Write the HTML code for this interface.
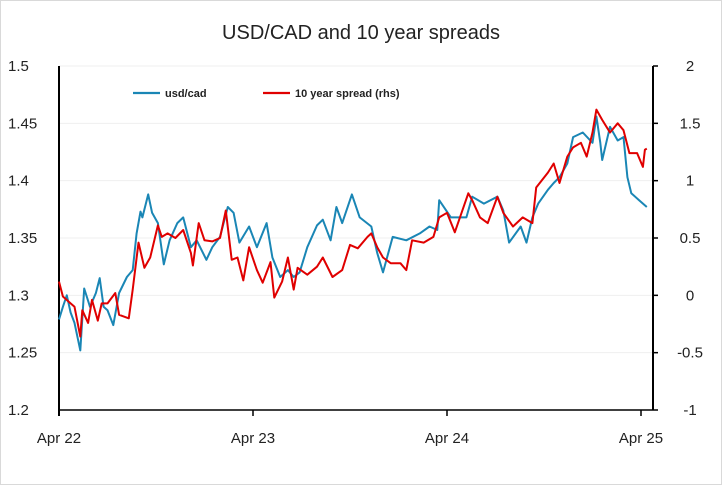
<!DOCTYPE html>
<html><head><meta charset="utf-8"><style>
body{margin:0;background:#fff}
svg{display:block;font-family:"Liberation Sans",sans-serif}
</style></head><body>
<svg id="chart" width="722" height="485">
<rect x="0.5" y="0.5" width="721" height="484" fill="#fff" stroke="#d9d9d9"/>
<text x="361" y="39" text-anchor="middle" font-size="20" fill="#222">USD/CAD and 10 year spreads</text>
<g id="grid"></g><g id="axes"></g><g id="series"></g>
<g>
<line x1="133" y1="93" x2="160" y2="93" stroke="#1a86b5" stroke-width="2.2"/>
<text x="165" y="97" font-size="11" font-weight="bold" fill="#222">usd/cad</text>
<line x1="263" y1="93" x2="290" y2="93" stroke="#e00000" stroke-width="2.2"/>
<text x="295" y="97" font-size="11" font-weight="bold" fill="#222">10 year spread (rhs)</text>
</g>
</svg>
<script>
const leftTicks=[1.2,1.25,1.3,1.35,1.4,1.45,1.5];
const leftTickLabels=["1.2","1.25","1.3","1.35","1.4","1.45","1.5"];
const rightTicks=[-1,-0.5,0,0.5,1,1.5,2];
const rightTickLabels=["-1","-0.5","0","0.5","1","1.5","2"];
const xTicks=[0,1,2,3];
const xTickLabels=["Apr 22","Apr 23","Apr 24","Apr 25"];
const usdT=[0,.02,.04,.06,.08,.11,.13,.16,.19,.21,.23,.25,.28,.31,.35,.38,.40,.42,.43,.46,.48,.51,.54,.57,.61,.64,.68,.71,.76,.79,.83,.87,.90,.93,.98,1.02,1.07,1.10,1.14,1.18,1.21,1.24,1.28,1.33,1.36,1.40,1.43,1.46,1.51,1.55,1.61,1.64,1.67,1.72,1.79,1.86,1.91,1.95,1.96,2.02,2.07,2.10,2.13,2.19,2.26,2.29,2.32,2.38,2.41,2.44,2.47,2.52,2.55,2.58,2.62,2.65,2.70,2.75,2.77,2.79,2.80,2.84,2.88,2.91,2.93,2.95,2.99,3.03];
const usdcad=[1.279,1.290,1.300,1.285,1.276,1.252,1.306,1.290,1.302,1.315,1.290,1.287,1.274,1.302,1.316,1.322,1.354,1.373,1.368,1.388,1.372,1.363,1.327,1.348,1.363,1.368,1.342,1.348,1.331,1.342,1.351,1.377,1.372,1.346,1.360,1.342,1.363,1.333,1.316,1.322,1.316,1.320,1.342,1.361,1.366,1.348,1.377,1.363,1.388,1.368,1.360,1.337,1.320,1.351,1.348,1.354,1.360,1.357,1.383,1.368,1.368,1.368,1.386,1.380,1.386,1.374,1.346,1.360,1.346,1.368,1.380,1.392,1.398,1.403,1.415,1.438,1.442,1.433,1.456,1.433,1.418,1.447,1.435,1.438,1.403,1.389,1.383,1.377];
const sprT=[0,.02,.06,.08,.11,.12,.15,.17,.20,.22,.25,.29,.31,.36,.38,.41,.44,.47,.51,.53,.56,.60,.64,.68,.69,.72,.75,.79,.83,.86,.89,.92,.95,.98,1.02,1.05,1.09,1.11,1.15,1.18,1.21,1.23,1.28,1.33,1.36,1.41,1.46,1.50,1.54,1.59,1.61,1.64,1.67,1.71,1.76,1.79,1.82,1.88,1.93,1.96,2.00,2.04,2.11,2.13,2.17,2.21,2.26,2.29,2.34,2.39,2.44,2.46,2.52,2.55,2.58,2.62,2.65,2.69,2.72,2.75,2.77,2.80,2.84,2.88,2.91,2.94,2.98,3.01,3.02,3.03];
const spread=[0.12,-0.01,-0.07,-0.10,-0.36,-0.13,-0.24,-0.04,-0.22,-0.07,-0.07,0.02,-0.17,-0.20,0.05,0.46,0.24,0.33,0.61,0.51,0.54,0.50,0.57,0.37,0.26,0.63,0.48,0.47,0.50,0.74,0.31,0.33,0.13,0.42,0.22,0.11,0.29,-0.02,0.12,0.33,0.05,0.24,0.18,0.25,0.33,0.16,0.22,0.44,0.41,0.51,0.54,0.42,0.33,0.28,0.28,0.22,0.48,0.46,0.51,0.68,0.72,0.55,0.89,0.83,0.68,0.63,0.86,0.72,0.60,0.68,0.63,0.94,1.07,1.15,0.98,1.21,1.29,1.33,1.21,1.42,1.62,1.53,1.42,1.50,1.44,1.24,1.24,1.12,1.27,1.28];

const NS="http://www.w3.org/2000/svg";
const X0=59,XR=653,YT=66,YB=410;
const xs=t=>X0+t*194;
const yl=v=>YB-(v-1.2)/0.3*(YB-YT);
const yr=v=>YB-(v+1)/3*(YB-YT);
function mk(tag,attrs,parent){const e=document.createElementNS(NS,tag);for(const k in attrs)e.setAttribute(k,attrs[k]);parent.appendChild(e);return e;}
const grid=document.getElementById('grid'),axes=document.getElementById('axes'),series=document.getElementById('series');
leftTicks.forEach((v,i)=>{
  const y=yl(v);
  if(v>1.2){const g=mk('line',{x1:X0,x2:XR,y1:y,y2:y,stroke:'#efefef','stroke-width':1},grid);
  
  }
  const t=mk('text',{x:8,y:y+5,'font-size':15,fill:'#222'},axes);t.textContent=leftTickLabels[i];
  
  
});
rightTicks.forEach((v,i)=>{
  const y=yr(v);
  const tk=mk('line',{x1:XR,x2:XR+5,y1:y,y2:y,stroke:'#000','stroke-width':1.5},axes);
  
  
  const t=mk('text',{x:690,y:y+5,'font-size':15,fill:'#222','text-anchor':'middle'},axes);t.textContent=rightTickLabels[i];
  
  
});
xTicks.forEach((v,i)=>{
  const x=xs(v);
  const tk=mk('line',{x1:x,x2:x,y1:YB,y2:YB+6,stroke:'#000','stroke-width':1.5},axes);
  
  
  const t=mk('text',{x:x,y:443,'font-size':15,fill:'#222','text-anchor':'middle'},axes);t.textContent=xTickLabels[i];
  
  
});
const la=mk('line',{x1:X0,x2:X0,y1:YT,y2:YB+6,stroke:'#000','stroke-width':2},axes);


const ra=mk('line',{x1:XR,x2:XR,y1:YT,y2:YB,stroke:'#000','stroke-width':2},axes);


const xa=mk('line',{x1:X0,x2:XR,y1:YB,y2:YB,stroke:'#000','stroke-width':1.5},axes);


const pb=mk('path',{d:usdT.map((t,i)=>(i?'L':'M')+xs(t).toFixed(1)+','+yl(usdcad[i]).toFixed(1)).join(''),fill:'none',stroke:'#1a86b5','stroke-width':2,'stroke-linejoin':'round'},series);


const pr=mk('path',{d:sprT.map((t,i)=>(i?'L':'M')+xs(t).toFixed(1)+','+yr(spread[i]).toFixed(1)).join(''),fill:'none',stroke:'#e00000','stroke-width':2,'stroke-linejoin':'round'},series);


</script>
</body></html>
